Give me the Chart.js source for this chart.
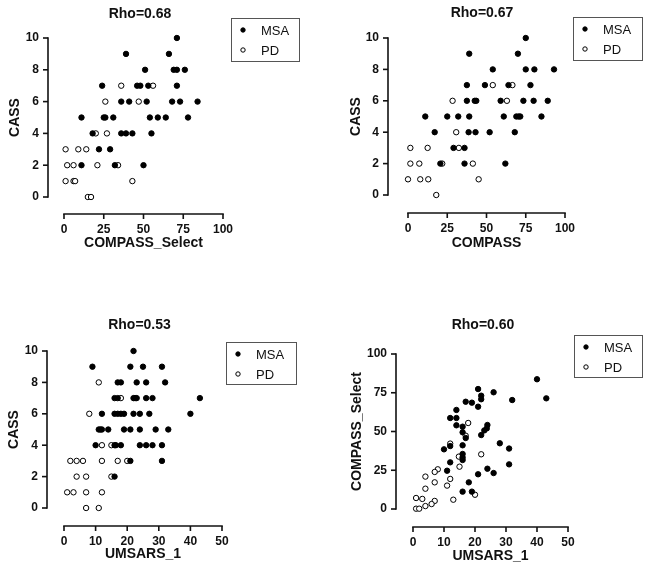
<!DOCTYPE html>
<html>
<head>
<meta charset="utf-8">
<script src="https://cdn.jsdelivr.net/npm/chart.js@4/dist/chart.umd.min.js"></script>
<style>
  body { margin: 0; background: #fff; }
  #wrap { position: relative; width: 649px; height: 574px; overflow: hidden; }
  canvas { position: absolute; }
</style>
</head>
<body>
<div id="wrap">
  <canvas id="c1" width="324" height="287" style="left:0;top:0"></canvas>
  <canvas id="c2" width="324" height="287" style="left:325px;top:0"></canvas>
  <canvas id="c3" width="324" height="287" style="left:0;top:287px"></canvas>
  <canvas id="c4" width="324" height="287" style="left:325px;top:287px"></canvas>
</div>
<script>
// ---- data ----
const SERIES = ['MSA', 'PD'];

// panel 1: CASS vs COMPASS_Select
const p1MsaX = [71, 39, 66, 51, 69, 71, 76, 24, 46, 48, 53, 71, 36, 41, 52, 68, 73, 84, 11, 25, 26, 31, 54, 59, 64, 78, 18, 36, 39, 43, 55, 22, 29, 11, 32, 50];
const p1MsaY = [10, 9, 9, 8, 8, 8, 8, 7, 7, 7, 7, 7, 6, 6, 6, 6, 6, 6, 5, 5, 5, 5, 5, 5, 5, 5, 4, 4, 4, 4, 4, 3, 3, 2, 2, 2];
const p1PdX = [36, 56, 26, 47, 20, 27, 1, 9, 14, 2, 6, 21, 34, 1, 6, 7, 43, 15, 17];
const p1PdY = [7, 7, 6, 6, 4, 4, 3, 3, 3, 2, 2, 2, 2, 1, 1, 1, 1, 0, 0];

// panel 2: CASS vs COMPASS
const p2MsaX = [75, 39, 70, 54, 75, 80.5, 93, 37.5, 49, 64, 78, 37.5, 42.5, 43.5, 59, 73.5, 80, 89, 11, 25, 32, 39, 61, 69, 70.5, 71.5, 85, 17, 38.6, 43, 52, 68, 29, 36, 20.6, 36, 62];
const p2MsaY = [10, 9, 9, 8, 8, 8, 8, 7, 7, 7, 7, 6, 6, 6, 6, 6, 6, 6, 5, 5, 5, 5, 5, 5, 5, 5, 5, 4, 4, 4, 4, 4, 3, 3, 2, 2, 2];
const p2PdX = [54, 66.5, 28.4, 63, 30.7, 1.5, 12.5, 32.4, 1.5, 7.2, 21.8, 41.3, 0, 7.8, 12.9, 45, 18];
const p2PdY = [7, 7, 6, 6, 4, 3, 3, 3, 2, 2, 2, 2, 1, 1, 1, 1, 0];

// panel 3: CASS vs UMSARS_1
const p3MsaX = [22, 9, 21, 25, 31, 17, 18, 23, 26, 32, 16, 17, 22, 22.5, 23, 26, 28, 43, 12, 16, 17, 18, 19, 22, 24, 27, 40, 11, 11.5, 12, 14, 19, 21, 24, 29, 33, 10, 16, 16.4, 18, 24, 26, 28, 31, 21, 31, 16];
const p3MsaY = [10, 9, 9, 9, 9, 8, 8, 8, 8, 8, 7, 7, 7, 7, 7, 7, 7, 7, 6, 6, 6, 6, 6, 6, 6, 6, 6, 5, 5, 5, 5, 5, 5, 5, 5, 5, 4, 4, 4, 4, 4, 4, 4, 4, 3, 3, 2];
const p3PdX = [11, 18, 8, 12, 15, 2, 4, 6, 12, 17, 20, 4, 7, 15, 1, 3, 7, 12, 7, 11];
const p3PdY = [8, 7, 6, 4, 4, 3, 3, 3, 3, 3, 3, 2, 2, 2, 1, 1, 1, 1, 0, 0];

// panel 4: COMPASS_Select vs UMSARS_1
const p4MsaX = [40, 43, 21, 26, 22, 22, 32, 17, 19, 21, 14, 12, 14, 14, 16, 24, 23.8, 23, 22, 16, 17, 10, 12, 16, 16, 16, 16, 28, 31, 31, 12, 11, 24, 26, 21, 18, 16, 19];
const p4MsaY = [83.7, 71.4, 77.4, 75.3, 73.1, 70.8, 70.3, 69.2, 68.6, 66, 63.9, 58.7, 58.7, 54, 53.1, 54.2, 52, 50.7, 47.7, 49.5, 45.8, 38.5, 40.6, 41.1, 35.5, 33.3, 31.6, 42.4, 39, 28.8, 30.1, 24.7, 26, 23.2, 22.4, 17.2, 11.2, 11.2];
const p4PdX = [17.8, 17, 12, 14.8, 22, 15, 8, 7, 4, 12, 4, 7, 11, 20, 13, 1, 3, 7, 6, 4, 1, 2];
const p4PdY = [55.5, 47.3, 42.2, 33.8, 35.3, 27.3, 25.6, 23.9, 20.9, 19.4, 13.1, 17.2, 15.1, 9.2, 6, 7.1, 6.5, 5.2, 3.2, 1.9, 0.2, 0.2];

// axis ticks
const TICKS_CASS = [0, 2, 4, 6, 8, 10];
const TICKS_COMPASS = [0, 25, 50, 75, 100];
const TICKS_UMSARS = [0, 10, 20, 30, 40, 50];

const FONT = '"Liberation Sans", Arial, Helvetica, sans-serif';
Chart.defaults.font.family = FONT;
Chart.defaults.color = '#111';

// Prism-style detached axes, panel title and boxed legend
function decorPlugin(d) {
    return {
        id: 'decor',
        afterDraw(chart) {
            const ctx = chart.ctx;
            const area = chart.chartArea;
            const sx = chart.scales.x, sy = chart.scales.y;

            // y axis
            ctx.save();
            ctx.strokeStyle = '#111';
            ctx.lineWidth = 1.6;
            const ax = Math.round(area.left - d.gapY);
            const y0 = sy.getPixelForValue(d.yTicks[0]);
            const y1 = sy.getPixelForValue(d.yTicks[d.yTicks.length - 1]);
            ctx.beginPath();
            ctx.moveTo(ax, y0 + 0.8);
            ctx.lineTo(ax, y1 - 0.8);
            ctx.stroke();
            for (const v of d.yTicks) {
                const p = sy.getPixelForValue(v);
                ctx.beginPath();
                ctx.moveTo(ax - 5, p);
                ctx.lineTo(ax, p);
                ctx.stroke();
            }

            // x axis
            const ay = Math.round(area.bottom + d.gapX);
            const x0 = sx.getPixelForValue(d.xTicks[0]);
            const x1 = sx.getPixelForValue(d.xTicks[d.xTicks.length - 1]);
            ctx.beginPath();
            ctx.moveTo(x0 - 0.8, ay);
            ctx.lineTo(x1 + 0.8, ay);
            ctx.stroke();
            for (const v of d.xTicks) {
                const p = sx.getPixelForValue(v);
                ctx.beginPath();
                ctx.moveTo(p, ay);
                ctx.lineTo(p, ay + 5);
                ctx.stroke();
            }
            ctx.restore();

            // title
            ctx.save();
            ctx.font = 'bold 14px ' + FONT;
            ctx.fillStyle = '#111';
            ctx.textAlign = 'center';
            ctx.textBaseline = 'middle';
            ctx.fillText(d.title, d.titleX, d.titleY);
            ctx.restore();

            // legend
            const L = d.legend;
            ctx.save();
            ctx.lineWidth = 1;
            ctx.strokeStyle = '#555';
            ctx.strokeRect(L.x + 0.5, L.y + 0.5, L.w, L.h);
            ctx.font = '13px ' + FONT;
            ctx.textAlign = 'left';
            ctx.textBaseline = 'middle';
            chart.data.datasets.forEach((ds, i) => {
                const cy = L.y + 12 + i * 20;
                ctx.beginPath();
                ctx.arc(L.x + 12, cy, 2.2, 0, Math.PI * 2);
                ctx.fillStyle = ds.backgroundColor;
                ctx.fill();
                ctx.strokeStyle = ds.borderColor;
                ctx.stroke();
                ctx.fillStyle = '#111';
                ctx.fillText(ds.label, L.x + 30, cy + 1);
            });
            ctx.restore();
        }
    };
}

function pts(xs, ys) {
    return xs.map((v, i) => ({ x: v, y: ys[i] }));
}

function makePanel(id, cfg) {
    const el = document.getElementById(id);
    const W = el.width, H = el.height;
    const a = cfg.area;
    const d = Object.assign({ xTicks: cfg.xTicks, yTicks: cfg.yTicks }, cfg.decor);
    new Chart(el, {
        type: 'scatter',
        data: {
            datasets: [
                { label: SERIES[0], data: pts(cfg.msaX, cfg.msaY), backgroundColor: '#000', borderColor: '#000' },
                { label: SERIES[1], data: pts(cfg.pdX, cfg.pdY), backgroundColor: '#fff', borderColor: '#000' }
            ]
        },
        options: {
            responsive: false,
            animation: false,
            layout: { padding: { left: 0, top: a.t, right: W - a.r, bottom: 0 } },
            elements: { point: { radius: 2.7, borderWidth: 1, hoverRadius: 2.7 } },
            datasets: { scatter: { clip: false } },
            plugins: {
                legend: { display: false },
                tooltip: { enabled: false }
            },
            scales: {
                x: {
                    type: 'linear',
                    min: cfg.xTicks[0],
                    max: cfg.xTicks[cfg.xTicks.length - 1],
                    afterBuildTicks: s => { s.ticks = cfg.xTicks.map(v => ({ value: v })); },
                    afterFit: s => { s.height = H - a.b; },
                    grid: { display: false, drawTicks: false },
                    border: { display: false },
                    ticks: { font: { size: 12, weight: 'bold' }, padding: d.gapX + 8, maxRotation: 0, autoSkip: false },
                    title: { display: true, text: cfg.xTitle, font: { size: 14, weight: 'bold' }, padding: { top: 0, bottom: cfg.xTitlePad } }
                },
                y: {
                    type: 'linear',
                    min: cfg.yTicks[0],
                    max: cfg.yTicks[cfg.yTicks.length - 1],
                    afterBuildTicks: s => { s.ticks = cfg.yTicks.map(v => ({ value: v })); },
                    afterFit: s => { s.width = a.l; },
                    grid: { display: false, drawTicks: false },
                    border: { display: false },
                    ticks: { font: { size: 12, weight: 'bold' }, padding: d.gapY + 9 },
                    title: { display: true, text: cfg.yTitle, font: { size: 14, weight: 'bold' }, padding: { top: cfg.yTitlePad, bottom: 0 } }
                }
            }
        },
        plugins: [decorPlugin(d)]
    });
}

makePanel('c1', {
    msaX: p1MsaX, msaY: p1MsaY, pdX: p1PdX, pdY: p1PdY,
    xTicks: TICKS_COMPASS, yTicks: TICKS_CASS,
    xTitle: 'COMPASS_Select', yTitle: 'CASS',
    area: { l: 64, t: 38, r: 223, b: 197 },
    xTitlePad: 35, yTitlePad: 6.6,
    decor: { title: 'Rho=0.68', titleX: 140, titleY: 14, gapY: 16, gapX: 17, legend: { x: 231, y: 18, w: 68, h: 43 } }
});

makePanel('c2', {
    msaX: p2MsaX, msaY: p2MsaY, pdX: p2PdX, pdY: p2PdY,
    xTicks: TICKS_COMPASS, yTicks: TICKS_CASS,
    xTitle: 'COMPASS', yTitle: 'CASS',
    area: { l: 83, t: 38, r: 240, b: 195 },
    xTitlePad: 35, yTitlePad: 22.6,
    decor: { title: 'Rho=0.67', titleX: 157, titleY: 13, gapY: 20, gapX: 18, legend: { x: 248, y: 17, w: 69, h: 43 } }
});

makePanel('c3', {
    msaX: p3MsaX, msaY: p3MsaY, pdX: p3PdX, pdY: p3PdY,
    xTicks: TICKS_UMSARS, yTicks: TICKS_CASS,
    xTitle: 'UMSARS_1', yTitle: 'CASS',
    area: { l: 64, t: 64, r: 222, b: 221 },
    xTitlePad: 11.6, yTitlePad: 6.1,
    decor: { title: 'Rho=0.53', titleX: 139.5, titleY: 38.5, gapY: 17, gapX: 18, legend: { x: 226, y: 55, w: 70, h: 42 } }
});

makePanel('c4', {
    msaX: p4MsaX, msaY: p4MsaY, pdX: p4PdX, pdY: p4PdY,
    xTicks: TICKS_UMSARS, yTicks: TICKS_COMPASS,
    xTitle: 'UMSARS_1', yTitle: 'COMPASS_Select',
    area: { l: 88, t: 67, r: 243, b: 222 },
    xTitlePad: 9.6, yTitlePad: 24,
    decor: { title: 'Rho=0.60', titleX: 158, titleY: 38.5, gapY: 17, gapX: 18, legend: { x: 249, y: 48, w: 68, h: 42 } }
});
</script>
</body>
</html>
